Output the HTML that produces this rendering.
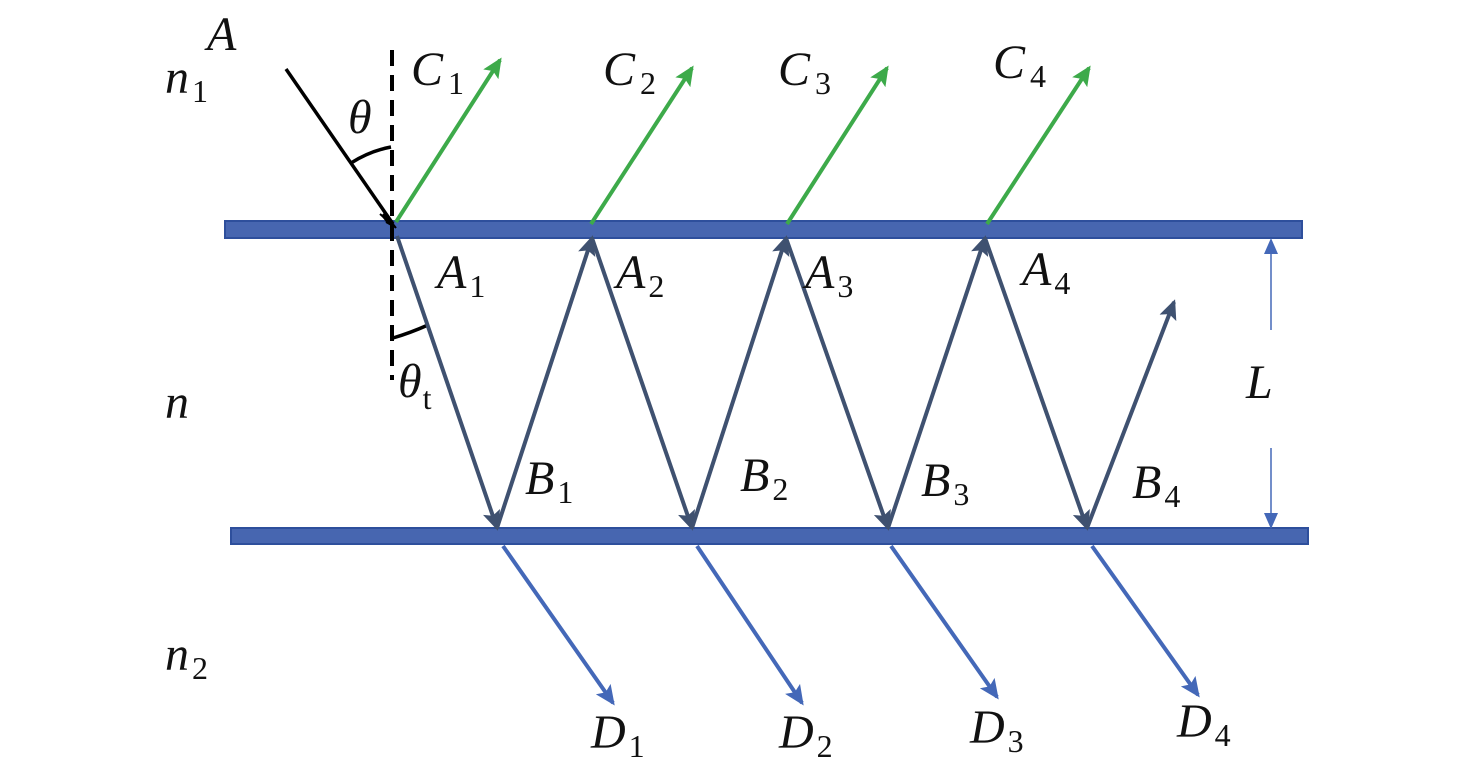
<!DOCTYPE html>
<html><head><meta charset="utf-8"><style>
html,body{margin:0;padding:0;background:#fff;}
svg{display:block;}
</style></head><body>
<svg width="1476" height="782" viewBox="0 0 1476 782" xmlns="http://www.w3.org/2000/svg" font-family="'Liberation Serif', 'Times New Roman', serif">
<defs>
<marker id="ag" markerWidth="20" markerHeight="18" refX="17" refY="9" orient="auto" markerUnits="userSpaceOnUse"><path d="M0,0 L20,9 L0,18 L4,9 z" fill="#3daa4a"/></marker>
<marker id="ab" markerWidth="20" markerHeight="18" refX="17" refY="9" orient="auto" markerUnits="userSpaceOnUse"><path d="M0,0 L20,9 L0,18 L4,9 z" fill="#4468b8"/></marker>
<marker id="ad" markerWidth="20" markerHeight="18" refX="17" refY="9" orient="auto" markerUnits="userSpaceOnUse"><path d="M0,0 L20,9 L0,18 L4,9 z" fill="#3f5170"/></marker>
<marker id="al" markerWidth="16" markerHeight="16" refX="14" refY="8" orient="auto" markerUnits="userSpaceOnUse"><path d="M0,1 L16,8 L0,15 z" fill="#4468b8"/></marker>
</defs>
<rect x="225" y="221" width="1077" height="17" fill="#4766b0" stroke="#2e4f9c" stroke-width="2"/>
<rect x="231" y="528" width="1077" height="16" fill="#4766b0" stroke="#2e4f9c" stroke-width="2"/>
<line x1="392" y1="50" x2="392" y2="380" stroke="#000" stroke-width="4" stroke-dasharray="16,9"/>
<line x1="286" y1="69" x2="393" y2="224" stroke="#000" stroke-width="3.5"/>
<path d="M383,214 L396,228 L388,218 z M380,214 L395,227 L386,222" fill="#000" stroke="#000" stroke-width="2"/>
<path d="M351,163 Q370,151 391,147" fill="none" stroke="#000" stroke-width="3.5"/>
<path d="M393,338 Q410,333 428,325" fill="none" stroke="#000" stroke-width="3.5"/>
<g stroke="#3daa4a" stroke-width="4">
<line x1="396" y1="222" x2="500" y2="60" marker-end="url(#ag)"/>
<line x1="591" y1="224" x2="692" y2="68" marker-end="url(#ag)"/>
<line x1="787" y1="224" x2="887" y2="68" marker-end="url(#ag)"/>
<line x1="987" y1="224" x2="1089" y2="68" marker-end="url(#ag)"/>
</g>
<g stroke="#3f5170" stroke-width="4" fill="none">
<line x1="397" y1="236" x2="497" y2="528" marker-end="url(#ad)"/>
<line x1="497" y1="528" x2="592" y2="238" marker-end="url(#ad)"/>
<line x1="592" y1="238" x2="692" y2="528" marker-end="url(#ad)"/>
<line x1="692" y1="528" x2="786" y2="238" marker-end="url(#ad)"/>
<line x1="786" y1="238" x2="888" y2="528" marker-end="url(#ad)"/>
<line x1="888" y1="528" x2="985" y2="238" marker-end="url(#ad)"/>
<line x1="985" y1="238" x2="1087" y2="528" marker-end="url(#ad)"/>
<line x1="1087" y1="528" x2="1174" y2="302" marker-end="url(#ad)"/>
</g>
<g stroke="#4468b8" stroke-width="4">
<line x1="503" y1="546" x2="613" y2="703" marker-end="url(#ab)"/>
<line x1="697" y1="546" x2="802" y2="703" marker-end="url(#ab)"/>
<line x1="891" y1="546" x2="997" y2="697" marker-end="url(#ab)"/>
<line x1="1092" y1="546" x2="1198" y2="695" marker-end="url(#ab)"/>
</g>
<g stroke="#4468b8" stroke-width="1.5">
<line x1="1271" y1="330" x2="1271" y2="240" marker-end="url(#al)"/>
<line x1="1271" y1="448" x2="1271" y2="527" marker-end="url(#al)"/>
</g>
<g font-size="48" font-style="italic" fill="#111">
<text x="207" y="50">A</text>
<text x="165" y="93">n<tspan font-style="normal" font-size="32" dx="3" dy="9">1</tspan></text>
<text x="165" y="418">n</text>
<text x="165" y="670">n<tspan font-style="normal" font-size="32" dx="3" dy="9">2</tspan></text>
<text x="348" y="133">θ</text>
<text x="398" y="397">θ<tspan font-style="normal" font-size="32" dx="1" dy="12">t</tspan></text>
<text x="411" y="85">C<tspan font-style="normal" font-size="32" dx="5" dy="9">1</tspan></text>
<text x="603" y="85">C<tspan font-style="normal" font-size="32" dx="5" dy="9">2</tspan></text>
<text x="778" y="85">C<tspan font-style="normal" font-size="32" dx="5" dy="9">3</tspan></text>
<text x="993" y="78">C<tspan font-style="normal" font-size="32" dx="5" dy="9">4</tspan></text>
<text x="437" y="288">A<tspan font-style="normal" font-size="32" dx="3" dy="9">1</tspan></text>
<text x="616" y="288">A<tspan font-style="normal" font-size="32" dx="3" dy="9">2</tspan></text>
<text x="805" y="288">A<tspan font-style="normal" font-size="32" dx="3" dy="9">3</tspan></text>
<text x="1022" y="285">A<tspan font-style="normal" font-size="32" dx="3" dy="9">4</tspan></text>
<text x="525" y="494">B<tspan font-style="normal" font-size="32" dx="3" dy="9">1</tspan></text>
<text x="740" y="491">B<tspan font-style="normal" font-size="32" dx="3" dy="9">2</tspan></text>
<text x="921" y="496">B<tspan font-style="normal" font-size="32" dx="3" dy="9">3</tspan></text>
<text x="1132" y="498">B<tspan font-style="normal" font-size="32" dx="3" dy="9">4</tspan></text>
<text x="1246" y="398">L</text>
<text x="591" y="748">D<tspan font-style="normal" font-size="32" dx="3" dy="9">1</tspan></text>
<text x="779" y="748">D<tspan font-style="normal" font-size="32" dx="3" dy="9">2</tspan></text>
<text x="970" y="743">D<tspan font-style="normal" font-size="32" dx="3" dy="9">3</tspan></text>
<text x="1177" y="737">D<tspan font-style="normal" font-size="32" dx="3" dy="9">4</tspan></text>
</g>
</svg>
</body></html>
